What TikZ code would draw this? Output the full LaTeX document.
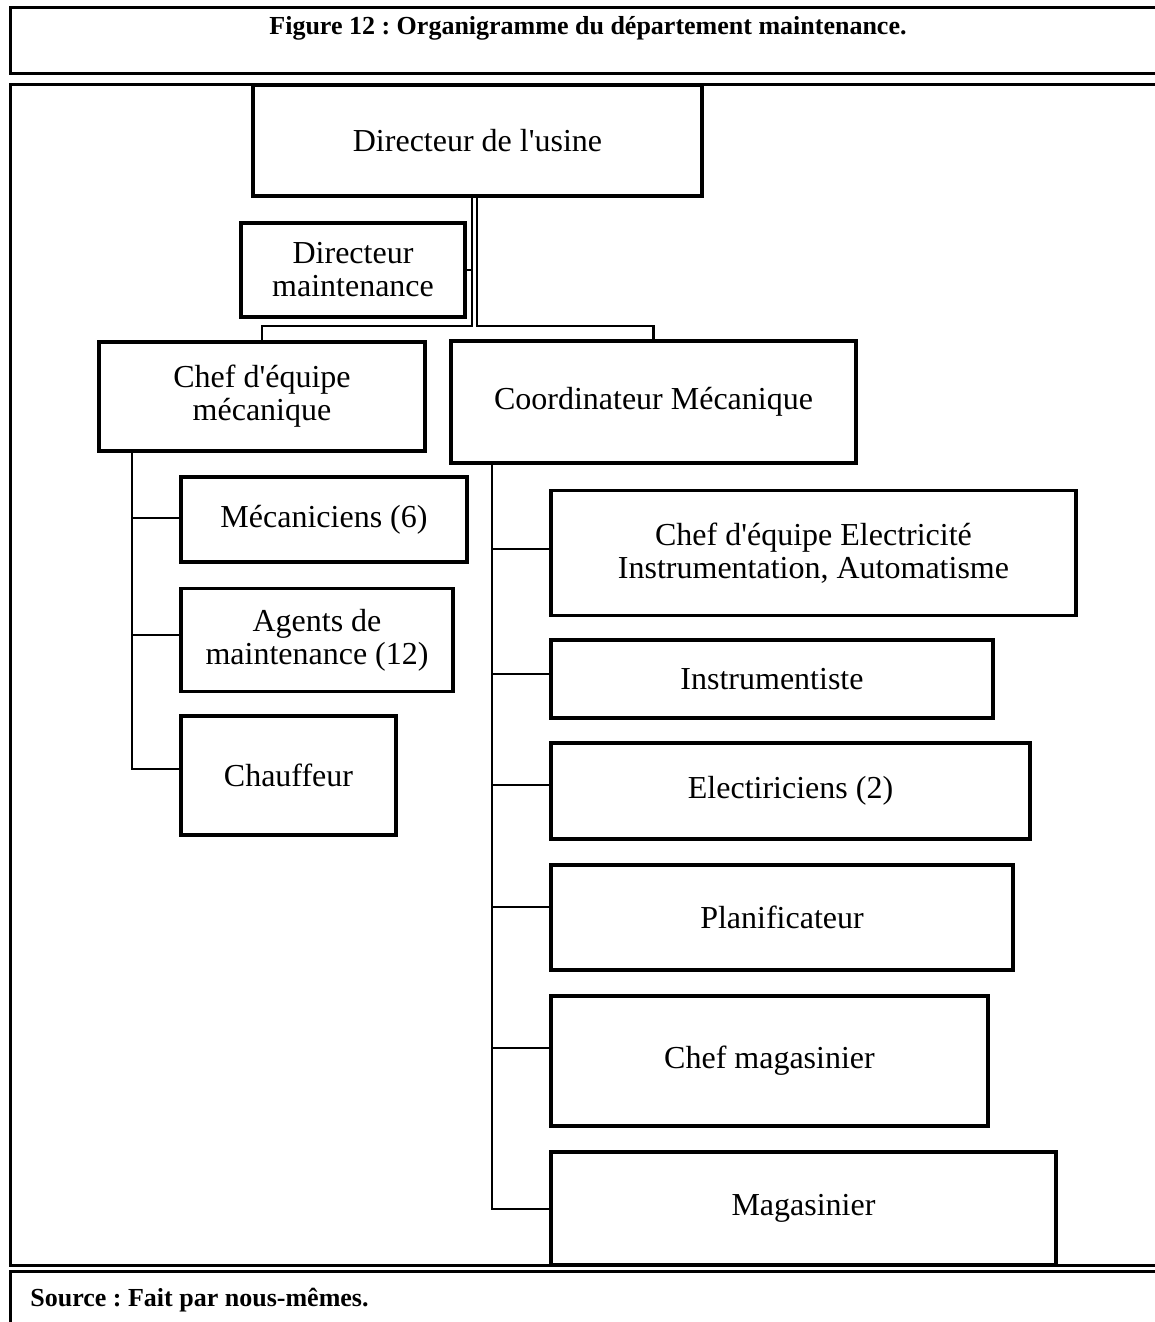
\documentclass[tikz,border=0pt]{standalone}
\usepackage{fontspec}
\setmainfont{Liberation Serif}[Ligatures=TeXOff]
\frenchspacing
\begin{document}
\begin{tikzpicture}[x=0.5pt,y=-0.5pt,
  box/.style={draw, line width=1.6pt, align=center, inner sep=0pt,
    font=\fontsize{16}{16.5}\selectfont},
  sz/.style 2 args={minimum width=#1*0.5pt, minimum height=#2*0.5pt},
  conn/.style={line width=1.1pt},
  frame/.style={line width=1.5pt},
  captext/.style={font=\fontsize{13}{15}\selectfont\bfseries, inner sep=0pt}]
\useasboundingbox (0,0) rectangle (1155,1322);
% frames
\draw[frame] (1170,8) -- (10,8) -- (10,74) -- (1170,74);
\draw[frame] (1170,85) -- (10,85) -- (10,1265) -- (1170,1265);
\draw[frame] (1170,1271) -- (10,1271) -- (10,1340);
\node[captext] (title) at (588,28) {Figure 12 : Organigramme du département maintenance.};
\node[captext, anchor=west] (source) at (30,1300) {Source : Fait par nous-mêmes.};
% boxes
\node[box, sz={449}{111}] (usine) at (477.5,140.5) {Directeur de l'usine};
\node[box, sz={224}{94}] (dirm) at (353,270) {Directeur\\maintenance};
\node[box, sz={326}{109}] (chefmec) at (262,396.5) {Chef d'équipe\\mécanique};
\node[box, sz={405}{122}] (coord) at (653.5,402) {Coordinateur Mécanique};
\node[box, sz={286}{85}] (meca) at (324,519.5) {Mécaniciens (6)};
\node[box, sz={272}{103}] (agents) at (317,640) {Agents de\\maintenance (12)};
\node[box, sz={215}{119}] (chauff) at (288.5,775.5) {Chauffeur};
\node[box, sz={525}{125}] (chefelec) at (813.5,553) {Chef d'équipe Electricité\\Instrumentation, Automatisme};
\node[box, sz={442}{78}] (instr) at (772,679) {Instrumentiste};
\node[box, sz={479}{96}] (elec) at (790.5,791) {Electiriciens (2)};
\node[box, sz={462}{105}] (planif) at (782,917.5) {Planificateur};
\node[box, sz={437}{130}] (chefmag) at (769.5,1061) {Chef magasinier};
\node[box, sz={505}{113}] (mag) at (803.5,1208.5) {Magasinier};
% top connectors (double line)
\coordinate (jL) at (472,326);
\coordinate (jR) at (477,326);
\draw[conn] (usine.south -| jL) -- (jL) -| (chefmec.north);
\draw[conn] (usine.south -| jR) -- (jR) -| (coord.north);
\draw[conn] (dirm.east) -- (dirm.east -| jL);
% left trunk
\coordinate (tL) at (132,0);
\draw[conn] (chefmec.south -| tL) |- (chauff.west |- 0,769);
\draw[conn] (tL |- 0,518) -- (meca.west |- 0,518);
\draw[conn] (tL |- 0,635) -- (agents.west |- 0,635);
% right trunk
\coordinate (tR) at (492,0);
\draw[conn] (coord.south -| tR) |- (mag.west |- 0,1209);
\draw[conn] (tR |- 0,549) -- (chefelec.west |- 0,549);
\draw[conn] (tR |- 0,674) -- (instr.west |- 0,674);
\draw[conn] (tR |- 0,785) -- (elec.west |- 0,785);
\draw[conn] (tR |- 0,907) -- (planif.west |- 0,907);
\draw[conn] (tR |- 0,1048) -- (chefmag.west |- 0,1048);
\end{tikzpicture}
\end{document}
